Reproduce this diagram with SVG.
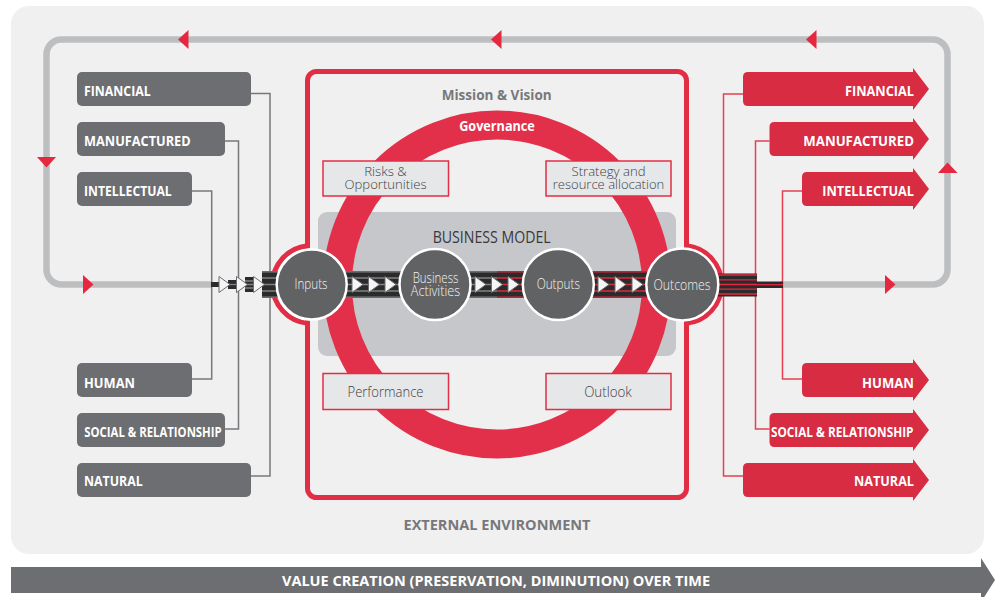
<svg xmlns="http://www.w3.org/2000/svg" width="999" height="597" viewBox="0 0 999 597">
<style>
.cap{font-family:"Open Sans","Liberation Sans",sans-serif;font-weight:700;font-size:14px;fill:#ffffff}
.lcap{fill:#6d6e71}
.rcap{fill:#d72c41}
.lconn{fill:none;stroke:#77787b;stroke-width:1.5}
.rconn{fill:none;stroke:#e4404f;stroke-width:1.5}
.box{fill:#e6e7e8;stroke:#e22e45;stroke-width:1.5}
.boxt{font-family:"Open Sans","Liberation Sans",sans-serif;font-weight:300;font-size:14px;fill:#414042;text-anchor:middle}
.box2{font-size:13px}
.circ{fill:#616264;stroke:#ffffff;stroke-width:2.5}
.circt{font-family:"Open Sans","Liberation Sans",sans-serif;font-weight:300;font-size:14px;fill:#f2f2f2;text-anchor:middle}
.tri{fill:#f5f5f5;stroke:#6d6e71;stroke-width:1}
.band{fill:#2b2b2b}
.gs{stroke:#808285;stroke-width:1.3}
.rs{stroke:#e2293f;stroke-width:1.3}
.ah{fill:#e3283f}
.title{font-family:"Open Sans","Liberation Sans",sans-serif;font-weight:700;font-size:14px;fill:#77787b;text-anchor:middle}
</style>
<defs>
<polygon id="tr" class="tri" points="0,-8 0,8 11,0"/>
</defs>

<rect x="11" y="6" width="973" height="548" rx="18" fill="#f0f0f0"/>

<g id="loop">
<path d="M212 284.5 H61.5 A15 15 0 0 1 46.5 269.5 V54.5 A15 15 0 0 1 61.5 39.5 H932.5 A15 15 0 0 1 947.5 54.5 V269.5 A15 15 0 0 1 932.5 284.5 H780" fill="none" stroke="#bdbec0" stroke-width="6.5"/>
<polygon class="ah" points="178,39.5 188.5,30 188.5,49"/>
<polygon class="ah" points="491,39.5 501.5,30 501.5,49"/>
<polygon class="ah" points="806,39.5 816.5,30 816.5,49"/>
<polygon class="ah" points="37,157 56,157 46.5,167.5"/>
<polygon class="ah" points="938,173 957.5,173 947.5,162.5"/>
<polygon class="ah" points="83,275 83,294 93.5,284.5"/>
<polygon class="ah" points="885,275 885,294 895.5,284.5"/>
</g>

<g id="frame">
<rect x="307.5" y="71.5" width="379" height="426" rx="9" fill="none" stroke="#e22e45" stroke-width="5"/>
<circle cx="311.7" cy="284.5" r="36.5" fill="#f0f0f0"/>
<circle cx="682.3" cy="284.5" r="36.5" fill="#f0f0f0"/>
</g>

<g id="business-model">
<rect x="318" y="212" width="358" height="144" rx="9" fill="#c6c7ca"/>
</g>

<g id="governance">
<circle cx="497" cy="284.5" r="159.5" fill="none" stroke="#e3304a" stroke-width="29"/>
</g>

<g id="bulges" fill="none" stroke="#e22e45" stroke-width="5">
<path d="M307.5 245.7 A39 39 0 0 0 307.5 323.3"/>
<path d="M686.5 245.7 A39 39 0 0 1 686.5 323.3"/>
</g>

<text class="title" x="496.7" y="100" textLength="110" lengthAdjust="spacingAndGlyphs">Mission &amp; Vision</text>
<text class="title" x="497" y="131" style="fill:#ffffff" textLength="75.7" lengthAdjust="spacingAndGlyphs">Governance</text>
<text x="491.7" y="242.5" font-family="Open Sans, Liberation Sans, sans-serif" font-size="16" fill="#39393b" text-anchor="middle" textLength="118" lengthAdjust="spacingAndGlyphs">BUSINESS MODEL</text>
<text class="title" x="497" y="530" style="font-size:13.5px" textLength="187" lengthAdjust="spacingAndGlyphs">EXTERNAL ENVIRONMENT</text>

<g id="risks">
<rect class="box" x="323" y="161" width="125.5" height="35"/>
<text class="boxt box2" x="385.5" y="176" textLength="42.7" lengthAdjust="spacingAndGlyphs">Risks &amp;</text>
<text class="boxt box2" x="385.5" y="189" textLength="82" lengthAdjust="spacingAndGlyphs">Opportunities</text>
</g>
<g id="strategy">
<rect class="box" x="546" y="161" width="125" height="35"/>
<text class="boxt box2" x="608.5" y="176" textLength="74" lengthAdjust="spacingAndGlyphs">Strategy and</text>
<text class="boxt box2" x="608.5" y="189" textLength="111.5" lengthAdjust="spacingAndGlyphs">resource allocation</text>
</g>
<g id="performance">
<rect class="box" x="323" y="373.5" width="125.5" height="36"/>
<text class="boxt" x="385.5" y="396.5" textLength="76" lengthAdjust="spacingAndGlyphs">Performance</text>
</g>
<g id="outlook">
<rect class="box" x="546" y="373.5" width="125" height="36"/>
<text class="boxt" x="608" y="396.5" textLength="47.7" lengthAdjust="spacingAndGlyphs">Outlook</text>
</g>

<g id="connectors">
<path class="lconn" d="M251 93.5 H270 V476 H251 M225 141 H238.5 V429 H225 M192 191 H211.7 V379 H192"/>
<path class="rconn" d="M743 94 H723.5 V476 H743 M769.5 141 H755.5 V429 H769.5 M802 191 H782.5 V379 H802"/>
<g id="bands">
<rect class="band" x="211" y="282" width="10" height="5"/>
<rect class="band" x="228" y="280" width="10" height="9"/>
<line class="gs" x1="228" y1="284.5" x2="238" y2="284.5"/>
<rect class="band" x="245" y="277" width="10" height="15"/>
<path class="gs" d="M245 281 H255 M245 284.5 H255 M245 288 H255"/>
<rect class="band" x="262" y="271" width="388" height="27"/>
<path class="gs" d="M262 271.8 H497 M262 278 H497 M262 284.5 H497 M262 291 H497 M262 297.2 H497"/>
<path class="rs" d="M497 271.8 H650 M497 278 H650 M497 284.5 H650 M497 291 H650 M497 297.2 H650"/>
<rect class="band" x="700" y="273.5" width="57" height="23"/>
<path class="rs" d="M700 275 H757 M700 279.8 H757 M700 284.5 H757 M700 289.2 H757 M700 294 H757"/>
<rect class="band" x="756" y="281.5" width="27" height="6.5"/>
<line class="rs" x1="756" y1="284.7" x2="783" y2="284.7"/>
</g>
<g id="arrows">
<use href="#tr" x="219" y="284.5"/>
<use href="#tr" x="236.5" y="284.5"/>
<use href="#tr" x="253.5" y="284.5"/>
<use href="#tr" x="352" y="284.5"/>
<use href="#tr" x="368.5" y="284.5"/>
<use href="#tr" x="385" y="284.5"/>
<use href="#tr" x="475" y="284.5"/>
<use href="#tr" x="491.5" y="284.5"/>
<use href="#tr" x="508" y="284.5"/>
<use href="#tr" x="598" y="284.5"/>
<use href="#tr" x="615" y="284.5"/>
<use href="#tr" x="632" y="284.5"/>
</g>
</g>

<g id="inputs">
<circle class="circ" cx="311.7" cy="284.5" r="35"/>
<text class="circt" x="311" y="288.5" textLength="33" lengthAdjust="spacingAndGlyphs">Inputs</text>
</g>
<g id="business-activities">
<circle class="circ" cx="435" cy="284.5" r="35.5"/>
<text class="circt box2" x="435.5" y="283" textLength="45.7" lengthAdjust="spacingAndGlyphs">Business</text>
<text class="circt box2" x="435.5" y="296" textLength="49.3" lengthAdjust="spacingAndGlyphs">Activities</text>
</g>
<g id="outputs">
<circle class="circ" cx="558.3" cy="284.5" r="35.5"/>
<text class="circt" x="558.3" y="288.5" textLength="43.3" lengthAdjust="spacingAndGlyphs">Outputs</text>
</g>
<g id="outcomes">
<circle class="circ" cx="682.3" cy="284.5" r="36"/>
<text class="circt" x="682" y="289.5" textLength="57" lengthAdjust="spacingAndGlyphs">Outcomes</text>
</g>

<g id="in-financial"><rect class="lcap" x="77" y="72" width="174" height="34" rx="5"/><text class="cap" x="84" y="96" textLength="66.7" lengthAdjust="spacingAndGlyphs">FINANCIAL</text></g>
<g id="in-manufactured"><rect class="lcap" x="77" y="122" width="148" height="34" rx="5"/><text class="cap" x="84" y="146" textLength="106.7" lengthAdjust="spacingAndGlyphs">MANUFACTURED</text></g>
<g id="in-intellectual"><rect class="lcap" x="77" y="172" width="115" height="34" rx="5"/><text class="cap" x="84" y="195.5" textLength="87.7" lengthAdjust="spacingAndGlyphs">INTELLECTUAL</text></g>
<g id="in-human"><rect class="lcap" x="77" y="363" width="115" height="34" rx="5"/><text class="cap" x="84" y="387.5" textLength="51" lengthAdjust="spacingAndGlyphs">HUMAN</text></g>
<g id="in-social"><rect class="lcap" x="77" y="413" width="148" height="34" rx="5"/><text class="cap" x="84.3" y="437" textLength="137.4" lengthAdjust="spacingAndGlyphs">SOCIAL &amp; RELATIONSHIP</text></g>
<g id="in-natural"><rect class="lcap" x="77" y="463" width="174" height="34" rx="5"/><text class="cap" x="84" y="486" textLength="58.7" lengthAdjust="spacingAndGlyphs">NATURAL</text></g>

<g id="out-financial"><path class="rcap" d="M913 72 V68 L929 89 L913 110 V106 H748 Q743 106 743 101 V77 Q743 72 748 72 Z"/><text class="cap" x="914" y="96" text-anchor="end" textLength="69" lengthAdjust="spacingAndGlyphs">FINANCIAL</text></g>
<g id="out-manufactured"><path class="rcap" d="M913 122 V118 L929 139 L913 160 V156 H774.5 Q769.5 156 769.5 151 V127 Q769.5 122 774.5 122 Z"/><text class="cap" x="914" y="146" text-anchor="end" textLength="110.7" lengthAdjust="spacingAndGlyphs">MANUFACTURED</text></g>
<g id="out-intellectual"><path class="rcap" d="M913 172 V168 L929 189 L913 210 V206 H807 Q802 206 802 201 V177 Q802 172 807 172 Z"/><text class="cap" x="914" y="195.5" text-anchor="end" textLength="91.7" lengthAdjust="spacingAndGlyphs">INTELLECTUAL</text></g>
<g id="out-human"><path class="rcap" d="M913 363 V359 L929 380 L913 401 V397 H807 Q802 397 802 392 V368 Q802 363 807 363 Z"/><text class="cap" x="914" y="387.5" text-anchor="end" textLength="52" lengthAdjust="spacingAndGlyphs">HUMAN</text></g>
<g id="out-social"><path class="rcap" d="M913 413 V409 L929 430 L913 451 V447 H774.5 Q769.5 447 769.5 442 V418 Q769.5 413 774.5 413 Z"/><text class="cap" x="913.5" y="436.5" text-anchor="end" textLength="142.6" lengthAdjust="spacingAndGlyphs">SOCIAL &amp; RELATIONSHIP</text></g>
<g id="out-natural"><path class="rcap" d="M913 463 V459 L929 480 L913 501 V497 H748 Q743 497 743 492 V468 Q743 463 748 463 Z"/><text class="cap" x="914" y="486" text-anchor="end" textLength="60" lengthAdjust="spacingAndGlyphs">NATURAL</text></g>

<g id="timeline">
<path d="M11 567 H981 V558 L995 580 L981 602 V593 H11 Z" fill="#6d6e71"/>
<text class="cap" x="496" y="585.5" text-anchor="middle" style="font-size:15px" textLength="428" lengthAdjust="spacingAndGlyphs">VALUE CREATION (PRESERVATION, DIMINUTION) OVER TIME</text>
</g>
</svg>
